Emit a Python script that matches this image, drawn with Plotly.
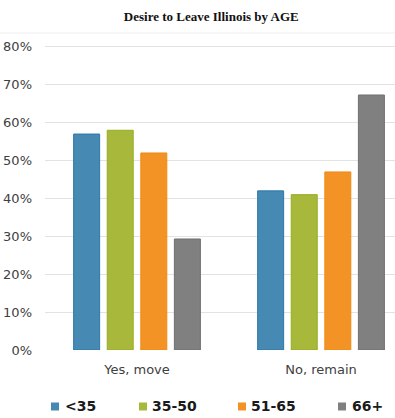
import plotly.graph_objects as go

categories = ["Yes, move", "No, remain"]
series_names = ["<35", "35-50", "51-65", "66+"]
values = {
    "<35": [57, 42],
    "35-50": [58, 41],
    "51-65": [52, 47],
    "66+": [29.3, 67.3],
}
fills = {"<35": "#4689b3", "35-50": "#a7b83a", "51-65": "#f39325", "66+": "#808080"}
edges = {"<35": "#2d78a6", "35-50": "#98ad20", "51-65": "#ee8a17", "66+": "#6f6f6f"}
y_ticks = [0, 10, 20, 30, 40, 50, 60, 70, 80]

W, H = 395, 418
L, R, T, B = 45, 0, 45, 68
pw, ph = W - L - R, H - T - B

def px(x):
    return (x - L) / pw

def py(y):
    return (H - B - y) / ph

fig = go.Figure()
for name in series_names:
    fig.add_trace(go.Bar(
        x=categories, y=values[name], name=name, showlegend=False,
        marker=dict(color=fills[name], line=dict(color=edges[name], width=1)),
    ))

# Legend drawn as small squares + bold labels (matches the original compact legend)
legend_sq_x = [51, 139, 238, 338]
legend_txt_x = [63, 150, 249, 350]
shapes = [dict(type="line", xref="paper", yref="paper", x0=px(0), x1=1.0, y0=py(33), y1=py(33),
               line=dict(color="#eeeeee", width=1))]
annotations = []
for i, name in enumerate(series_names):
    shapes.append(dict(type="rect", xref="paper", yref="paper",
                       x0=px(legend_sq_x[i]), x1=px(legend_sq_x[i] + 8),
                       y0=py(410.5), y1=py(402.5),
                       fillcolor=fills[name], line=dict(width=0)))
    annotations.append(dict(text="<b>" + name.replace("<", "&lt;") + "</b>",
                            xref="paper", yref="paper", x=px(legend_txt_x[i]), y=py(406),
                            xanchor="left", yanchor="middle", showarrow=False,
                            font=dict(family="DejaVu Sans", size=14, color="#1a1a1a")))

fig.update_layout(
    width=W, height=H,
    margin=dict(l=L, r=R, t=T, b=B),
    paper_bgcolor="white", plot_bgcolor="white",
    barmode="group", bargap=0.27, bargroupgap=0.226,
    title=dict(text="<b>Desire to Leave Illinois by AGE</b>", x=0.535, xanchor="center",
               y=1 - 16 / H, yanchor="middle", yref="container", xref="container",
               font=dict(family="Liberation Serif", size=13, color="#111111")),
    font=dict(family="DejaVu Sans", size=13, color="#404040"),
    showlegend=False,
    shapes=shapes,
    annotations=annotations,
)
fig.update_xaxes(range=[-0.5, 1.402], showgrid=False, showline=False, ticks="",
                 automargin=False, ticklabelstandoff=10,
                 tickfont=dict(size=13, color="#404040"))
fig.update_yaxes(range=[0, 80.5], tickvals=y_ticks, ticktext=[f"{v}%" for v in y_ticks],
                 showgrid=True, gridcolor="#e2e2e2", gridwidth=1, zeroline=False,
                 showline=False, ticks="", automargin=False, ticklabelstandoff=12,
                 tickfont=dict(size=13, color="#404040"))

fig.write_html("out.html", config={"displayModeBar": False},
               post_script="document.body.style.margin='0px';")
